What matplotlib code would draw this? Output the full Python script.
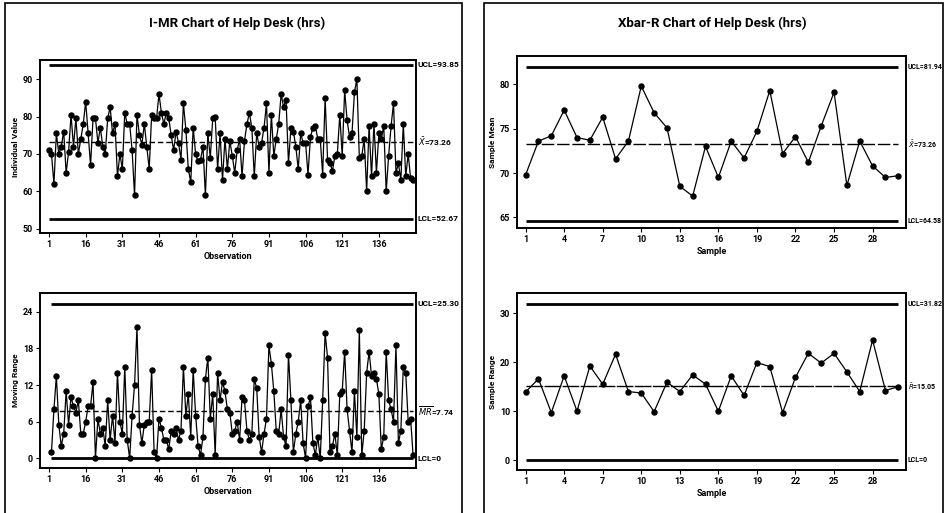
import matplotlib
matplotlib.use('Agg')
import matplotlib.pyplot as plt
from matplotlib.patches import Rectangle
import numpy as np

plt.rcParams['font.family'] = ['Roboto', 'DejaVu Sans']
plt.rcParams['mathtext.fontset'] = 'dejavusans'

individual = [
    71.0, 70.0, 62.0, 75.5, 70.0, 72.0, 76.0, 65.0, 70.5, 80.5,
    72.0, 79.5, 70.0, 74.0, 78.0, 84.0, 75.5, 67.0, 79.5, 79.5,
    73.0, 77.0, 72.0, 70.0, 79.5, 82.5, 75.5, 78.0, 64.0, 70.0,
    66.0, 81.0, 78.0, 78.0, 71.0, 59.0, 80.5, 75.0, 72.5, 78.0,
    72.0, 66.0, 80.5, 79.5, 79.5, 86.0, 81.0, 78.0, 81.0, 79.5,
    75.0, 71.0, 76.0, 73.0, 68.5, 83.5, 76.5, 66.0, 62.5, 77.0,
    70.0, 68.0, 68.5, 72.0, 59.0, 75.5, 69.0, 79.5, 80.0, 66.0,
    75.5, 63.0, 74.0, 66.0, 73.5, 69.5, 65.0, 71.0, 74.0, 64.0,
    73.5, 78.0, 81.0, 77.0, 64.0, 75.5, 72.0, 73.0, 77.0, 83.5,
    65.0, 80.5, 69.5, 74.0, 78.0, 86.0, 82.5, 84.5, 67.5, 77.0,
    76.0, 72.0, 66.0, 75.5, 73.0, 73.0, 64.5, 74.5, 77.0, 77.5,
    74.0, 74.0, 64.5, 85.0, 68.5, 67.5, 65.5, 69.5, 70.0, 80.5,
    69.5, 87.0, 79.0, 74.5, 75.5, 86.5, 90.0, 69.0, 69.5, 74.0,
    60.0, 77.5, 64.0, 78.0, 65.0, 75.5, 74.0, 77.5, 60.0, 69.5,
    77.5, 83.5, 65.0, 67.5, 63.0, 78.0, 64.0, 70.0, 63.5, 63.0,
]

# Subgroup means and ranges (subgroups of 5)
sample_mean = [
    69.8, 73.6, 74.2, 77.1, 74.0, 73.7, 76.3, 71.6, 73.6, 79.8,
    76.8, 75.1, 68.5, 67.4, 73.0, 69.5, 73.6, 71.7, 74.7, 79.3,
    72.2, 74.1, 71.2, 75.3, 79.1, 68.6, 73.6, 70.8, 69.5, 69.7,
]
sample_range = [
    13.9, 16.6, 9.7, 17.2, 10.0, 19.2, 15.5, 21.6, 14.0, 13.7,
    9.9, 15.9, 14.0, 17.4, 15.5, 10.0, 17.2, 13.2, 19.9, 19.1,
    9.7, 16.9, 21.8, 19.8, 21.8, 18.0, 14.0, 24.5, 14.2, 15.0,
]

# Control limits as printed by Minitab: (UCL, centre, LCL)
i_limits = (93.85, 73.26, 52.67)
mr_limits = (25.30, 7.74, 0.0)
xbar_limits = (81.94, 73.26, 64.58)
r_limits = (31.82, 15.05, 0.0)

i_labels = ('UCL=93.85', r'$\bar{X}$=73.26', 'LCL=52.67')
mr_labels = ('UCL=25.30', r'$\overline{MR}$=7.74', 'LCL=0')
xbar_labels = ('UCL=81.94', r'$\bar{\bar{X}}$=73.26', 'LCL=64.58')
r_labels = ('UCL=31.82', r'$\bar{R}$=15.05', 'LCL=0')

obs_ticks = list(range(1, 137, 15))
sample_ticks = list(range(1, 29, 3))


def control_panel(ax, x, y, limits, labels, xlim, ylim, xticks, yticks,
                  xlabel, ylabel, center_dashes, label_size=6.0):
    """One Minitab-style control chart with limit lines and labels."""
    ucl, cl, lcl = limits
    x0, x1 = x[0], x[-1]
    ax.hlines([ucl, lcl], x0, x1, colors='black', linewidth=2.0, zorder=2)
    ax.plot([x0, x1], [cl, cl], color='black', linewidth=1.0,
            dashes=center_dashes, zorder=2)
    ax.plot(x, y, color='black', linewidth=0.9, marker='o',
            markersize=3.6, zorder=3)
    ax.set_xlim(xlim)
    ax.set_ylim(ylim)
    ax.set_xticks(xticks)
    ax.set_yticks(yticks)
    ax.tick_params(labelsize=6.5, length=3, width=0.8, pad=2)
    for lab in ax.get_xticklabels() + ax.get_yticklabels():
        lab.set_fontweight('bold')
    ax.set_xlabel(xlabel, fontsize=6.5, fontweight='bold', labelpad=2)
    ax.set_ylabel(ylabel, fontsize=6, fontweight='bold', labelpad=3)
    for side in ax.spines.values():
        side.set_linewidth(1.4)
    for val, txt in zip(limits, labels):
        ax.annotate(txt, xy=(1.004, val), xycoords=('axes fraction', 'data'),
                    va='center', ha='left', fontsize=label_size,
                    fontweight='bold', annotation_clip=False)


fig = plt.figure(figsize=(9.48, 5.13), dpi=100)
W, H = 948, 513


def px_axes(left, top, right, bottom):
    return fig.add_axes([left / W, 1 - bottom / H,
                         (right - left) / W, (bottom - top) / H])


# Graph window borders
for x0, x1 in [(5, 462), (484, 943)]:
    fig.add_artist(Rectangle((x0 / W, -0.01), (x1 - x0) / W, 1 - 3 / H + 0.01,
                             transform=fig.transFigure, fill=False,
                             edgecolor='black', linewidth=1.2))

fig.text(237 / W, 1 - 23 / H, 'I-MR Chart of Help Desk (hrs)',
         ha='center', va='center', fontsize=9.5, fontweight='bold')
fig.text(712 / W, 1 - 23 / H, 'Xbar-R Chart of Help Desk (hrs)',
         ha='center', va='center', fontsize=9.5, fontweight='bold')

obs = np.arange(1, len(individual) + 1)
moving_range = np.abs(np.diff(individual))

ax_i = px_axes(40, 60, 416, 233)
control_panel(ax_i, obs, individual, i_limits, i_labels,
              (-2.7, 151.2), (48.9, 95.1), obs_ticks, [50, 60, 70, 80, 90],
              'Observation', 'Individual Value', (4, 2))

ax_mr = px_axes(40, 293, 416, 468)
control_panel(ax_mr, obs[1:], moving_range, mr_limits, mr_labels,
              (-2.7, 151.2), (-1.6, 27.1), obs_ticks, [0, 6, 12, 18, 24],
              'Observation', 'Moving Range', (4, 2))

samples = np.arange(1, len(sample_mean) + 1)

ax_x = px_axes(517, 56, 906, 228)
control_panel(ax_x, samples, sample_mean, xbar_limits, xbar_labels,
              (0.33, 30.6), (63.8, 83.2), sample_ticks, [65, 70, 75, 80],
              'Sample', 'Sample Mean', (9, 2), label_size=5.0)

ax_r = px_axes(517, 293, 906, 470)
control_panel(ax_r, samples, sample_range, r_limits, r_labels,
              (0.33, 30.6), (-2.0, 34.1), sample_ticks, [0, 10, 20, 30],
              'Sample', 'Sample Range', (12, 1), label_size=5.0)

fig.savefig('out.png', dpi=100)
